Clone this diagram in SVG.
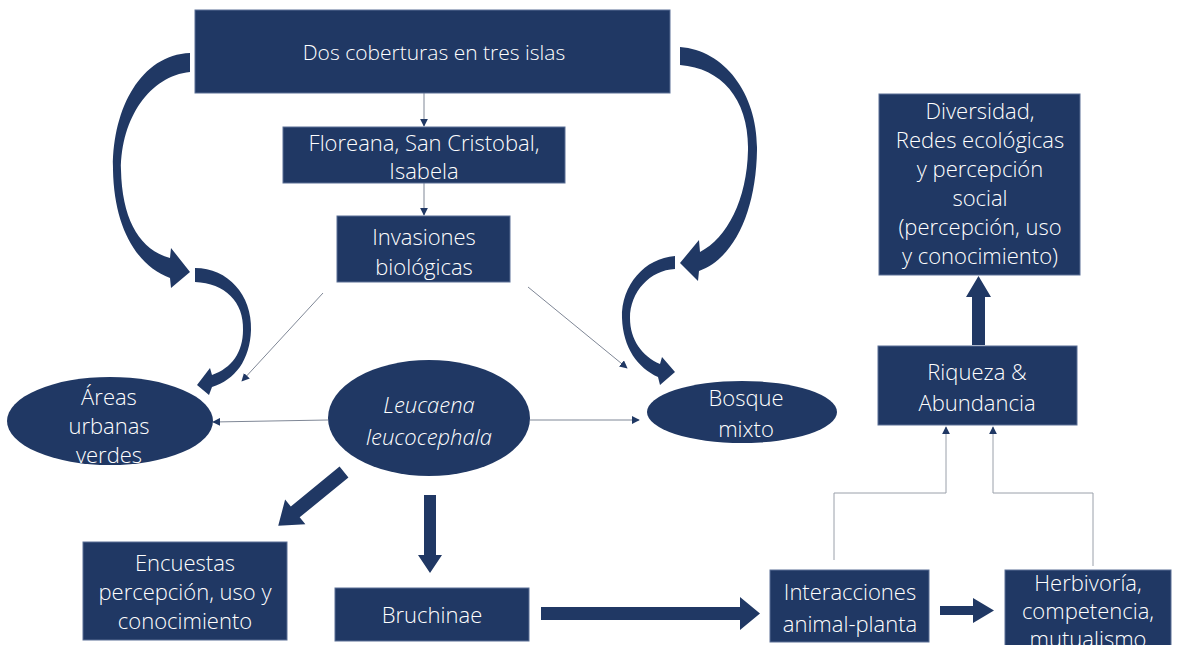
<svg xmlns="http://www.w3.org/2000/svg" width="1182" height="645" viewBox="0 0 1182 645">
<style>
  .box { fill: #203864; stroke: #5a6f95; stroke-width: 1; }
  .ell { fill: #203864; }
  .blk { fill: #203864; }
  .t { font-family: "Open Sans", "Liberation Sans", sans-serif; font-weight: 300; font-size: 22px; fill: #ffffff; text-anchor: middle; }
  .thin { fill: none; stroke: #7f8796; stroke-width: 1; marker-end: url(#ah); }
  .thinl { fill: none; stroke: #9aa0aa; stroke-width: 1; marker-end: url(#ah); }
</style>
<defs>
  <marker id="ah" viewBox="0 0 10 10" refX="9" refY="5" markerWidth="8" markerHeight="8" markerUnits="userSpaceOnUse" orient="auto">
    <path d="M0,0 L10,5 L0,10 Z" fill="#203864"/>
  </marker>
</defs>
<rect width="1182" height="645" fill="#ffffff"/>

<g id="connectors">
  <line class="thin" x1="424" y1="93" x2="424" y2="126"/>
  <line class="thin" x1="424" y1="183" x2="424" y2="215"/>
  <line class="thin" x1="323" y1="293" x2="242" y2="381"/>
  <line class="thin" x1="528" y1="287" x2="627" y2="368"/>
  <line class="thin" x1="328" y1="420" x2="213" y2="422"/>
  <line class="thin" x1="530" y1="420" x2="639" y2="420"/>
  <polyline class="thinl" points="834,560 834,493 946,493 946,427"/>
  <polyline class="thinl" points="1093,566 1093,493 993,493 993,427"/>
  <path class="blk" d="M190,53 C140,55 112,110 113,170 C114,225 135,265 170,278 L171,288 L190,272 L171,248 L170,258 C140,250 122,220 121,170 C121,118 150,76 190,72 Z"/>
  <path class="blk" d="M195,268 C228,268 252,295 251,330 C250,360 235,380 212,387 L209,395 L197,385 L210,368 L212,375 C232,368 243,352 243,330 C244,302 225,283 195,282 Z"/>
  <path class="blk" d="M680,47 C725,50 758,95 757,150 C756,210 735,258 699,271 L698,281 L680,263 L699,240 L700,252 C727,238 747,200 748,150 C749,100 722,68 680,65 Z"/>
  <path class="blk" d="M675,256 C645,258 621,285 622,318 C623,348 638,368 658,377 L660,385 L675,372 L662,357 L660,364 C642,356 630,340 630,318 C630,292 650,270 675,269 Z"/>
  <path class="blk" transform="translate(344,472) rotate(140.7)" d="M0,-7 L63,-7 L63,-16 L85,0 L63,16 L63,7 L0,7 Z"/>
  <path class="blk" d="M424,495 L436,495 L436,555 L442,555 L430,573 L418,555 L424,555 Z"/>
  <path class="blk" d="M541,607 L740,607 L740,597 L760,613.5 L740,630 L740,620 L541,620 Z"/>
  <path class="blk" d="M940,606 L973,606 L973,598 L994,610.5 L973,623 L973,615 L940,615 Z"/>
  <path class="blk" d="M972,345 L972,297 L966,297 L978.5,276 L991,297 L985,297 L985,345 Z"/>
</g>

<g id="top">
  <rect class="box" x="195" y="10" width="475" height="83"/>
  <text class="t" x="434" y="60" style="font-size:21px">Dos coberturas en tres islas</text>
</g>
<g id="islas">
  <rect class="box" x="283" y="127" width="282" height="56"/>
  <text class="t" x="424" y="151">Floreana, San Cristobal,</text>
  <text class="t" x="424" y="179">Isabela</text>
</g>
<g id="invasiones">
  <rect class="box" x="337" y="216" width="173" height="66"/>
  <text class="t" x="424" y="245">Invasiones</text>
  <text class="t" x="424" y="275">biológicas</text>
</g>
<g id="areas">
  <ellipse class="ell" cx="110" cy="421" rx="103" ry="44"/>
  <text class="t" x="109" y="405">Áreas</text>
  <text class="t" x="109" y="434">urbanas</text>
  <text class="t" x="109" y="463">verdes</text>
</g>
<g id="leucaena">
  <ellipse class="ell" cx="429" cy="418" rx="101" ry="58"/>
  <text class="t" x="429" y="413" font-style="italic">Leucaena</text>
  <text class="t" x="429" y="445" font-style="italic">leucocephala</text>
</g>
<g id="bosque">
  <ellipse class="ell" cx="742" cy="412" rx="95" ry="31"/>
  <text class="t" x="746" y="406">Bosque</text>
  <text class="t" x="746" y="437">mixto</text>
</g>
<g id="encuestas">
  <rect class="box" x="83" y="542" width="204" height="98"/>
  <text class="t" x="185" y="571">Encuestas</text>
  <text class="t" x="185" y="600">percepción, uso y</text>
  <text class="t" x="185" y="629">conocimiento</text>
</g>
<g id="bruchinae">
  <rect class="box" x="335" y="588" width="194" height="53"/>
  <text class="t" x="432" y="623">Bruchinae</text>
</g>
<g id="interacciones">
  <rect class="box" x="770" y="570" width="159" height="72"/>
  <text class="t" x="850" y="600">Interacciones</text>
  <text class="t" x="850" y="632">animal-planta</text>
</g>
<g id="herbivoria">
  <rect class="box" x="1005" y="570" width="166" height="80"/>
  <text class="t" x="1088" y="591">Herbivoría,</text>
  <text class="t" x="1088" y="619">competencia,</text>
  <text class="t" x="1088" y="647">mutualismo</text>
</g>
<g id="riqueza">
  <rect class="box" x="878" y="346" width="199" height="79"/>
  <text class="t" x="977" y="380">Riqueza &amp;</text>
  <text class="t" x="977" y="411">Abundancia</text>
</g>
<g id="diversidad">
  <rect class="box" x="879" y="94" width="201" height="181"/>
  <text class="t" x="980" y="119">Diversidad,</text>
  <text class="t" x="980" y="148">Redes ecológicas</text>
  <text class="t" x="980" y="177">y percepción</text>
  <text class="t" x="980" y="206">social</text>
  <text class="t" x="980" y="235">(percepción, uso</text>
  <text class="t" x="980" y="264">y conocimiento)</text>
</g>
</svg>
